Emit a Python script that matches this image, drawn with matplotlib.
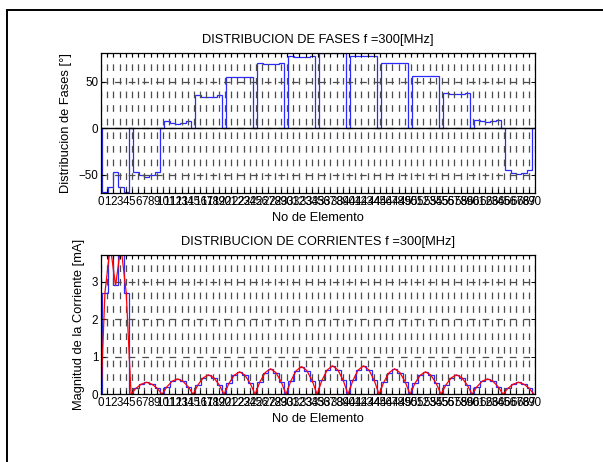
import numpy as np
import matplotlib
matplotlib.use('Agg')
import matplotlib.pyplot as plt
from matplotlib.patches import Rectangle

plt.rcParams['font.family'] = ['Liberation Sans', 'DejaVu Sans']
plt.rcParams['lines.scale_dashes'] = False

# ===== Datos (14 dipolos x 5 segmentos) =====
fases = [
    [-68.5, -63, -47, -63, -68.5],
    [-47, -50, -52, -50, -47],
    [7.5, 5.5, 5, 5.5, 7.5],
    [35.5, 34, 33.5, 34, 35.5],
    [55.5, 55, 55, 55, 55.5],
    [70, 69.5, 69.5, 69.5, 70],
    [77.5, 77, 77, 77, 77.5],
    [80.5, 80.5, 80.5, 80.5, 80.5],
    [78, 77.5, 77.5, 77.5, 78],
    [70.5, 70, 70, 70, 70.5],
    [56.5, 56, 56, 56, 56.5],
    [37.5, 36.5, 36.5, 36.5, 37.5],
    [9, 7.5, 7, 7.5, 9],
    [-45, -48, -49, -48, -45],
]

corrientes = [
    [2.7, 3.95, 2.9, 3.95, 2.7],
    [0.16, 0.27, 0.32, 0.27, 0.16],
    [0.20, 0.35, 0.41, 0.35, 0.20],
    [0.25, 0.44, 0.52, 0.44, 0.25],
    [0.29, 0.51, 0.60, 0.51, 0.29],
    [0.33, 0.58, 0.68, 0.58, 0.33],
    [0.36, 0.63, 0.74, 0.63, 0.36],
    [0.37, 0.65, 0.76, 0.65, 0.37],
    [0.37, 0.65, 0.76, 0.65, 0.37],
    [0.33, 0.58, 0.68, 0.58, 0.33],
    [0.29, 0.51, 0.60, 0.51, 0.29],
    [0.25, 0.44, 0.52, 0.44, 0.25],
    [0.20, 0.35, 0.41, 0.35, 0.20],
    [0.16, 0.27, 0.32, 0.27, 0.16],
]

n_elem = 70
xtick_labels = [str(i) for i in range(n_elem + 1)]

# geometria de los segmentos sobre el eje x
paso = 5.0        # separacion entre dipolos
inicio = 0.2      # inicio del primer dipolo
ancho_seg = 0.86  # ancho de cada segmento


def escalones(grupos):
    edges = [0.0]
    vals = [0.0]
    for g, grp in enumerate(grupos):
        x0 = inicio + g * paso
        for k, v in enumerate(grp):
            edges.append(x0 + k * ancho_seg)
            vals.append(v)
        edges.append(x0 + len(grp) * ancho_seg)
        vals.append(0.0)
    edges.append(float(n_elem))
    return np.array(vals), np.array(edges)


def curva(grupos):
    xs, ys = [], []
    hueco = (paso - 5 * ancho_seg) / 2
    for g, grp in enumerate(grupos):
        x0 = inicio + g * paso
        xs.append(max(x0 - hueco, 0.0))
        ys.append(0.0)
        for k, v in enumerate(grp):
            xs.append(x0 + (k + 0.5) * ancho_seg)
            ys.append(v)
    xs.append(inicio + len(grupos) * paso - hueco)
    ys.append(0.0)
    return xs, ys


def estilo(ax, ylim, yticks):
    ax.set_xlim(0, n_elem)
    ax.set_ylim(*ylim)
    ax.set_xticks(range(n_elem + 1))
    ax.set_xticklabels(xtick_labels)
    ax.set_yticks(yticks)
    ax.tick_params(direction='in', top=True, right=True, length=3, width=0.7,
                   labelsize=8.4, pad=2)
    ax.grid(True, color='0.3', linestyle=(0, (4.8, 5.0)), linewidth=0.9)
    for s in ax.spines.values():
        s.set_linewidth(0.9)
    ax.set_xlabel('No de Elemento', fontsize=9.3, labelpad=3)


fig = plt.figure(figsize=(6.03, 4.62), dpi=100)
fig.patches.append(Rectangle((7 / 603, -0.1), 2, 1.1 - 10 / 462, transform=fig.transFigure,
                             fill=False, edgecolor='k', linewidth=1.4))

ax1 = fig.add_axes([0.1675, 0.5816, 0.7197, 0.3043])
v, e = escalones(fases)
ax1.stairs(v, e, baseline=None, color='#2a2aff', linewidth=0.9)
ax1.axhline(0, color='k', linewidth=1.0)
estilo(ax1, (-70, 81.3), [-50, 0, 50])
ax1.set_ylabel('Distribucion de Fases [°]', fontsize=9.3, labelpad=5)
ax1.set_title('DISTRIBUCION DE FASES f =300[MHz]', fontsize=9.3, pad=7)

ax2 = fig.add_axes([0.1675, 0.1465, 0.7197, 0.3022])
v, e = escalones(corrientes)
ax2.stairs(v, e, baseline=None, color='#2a2aff', linewidth=0.9)
xr, yr = curva(corrientes)
ax2.plot(xr, yr, color='r', linewidth=0.9)
estilo(ax2, (0, 3.72), [0, 1, 2, 3])
ax2.set_ylabel('Magnitud de la Corriente [mA]', fontsize=9.3, labelpad=5)
ax2.set_title('DISTRIBUCION DE CORRIENTES f =300[MHz]', fontsize=9.3, pad=7)

fig.savefig('out.png', dpi=100)
